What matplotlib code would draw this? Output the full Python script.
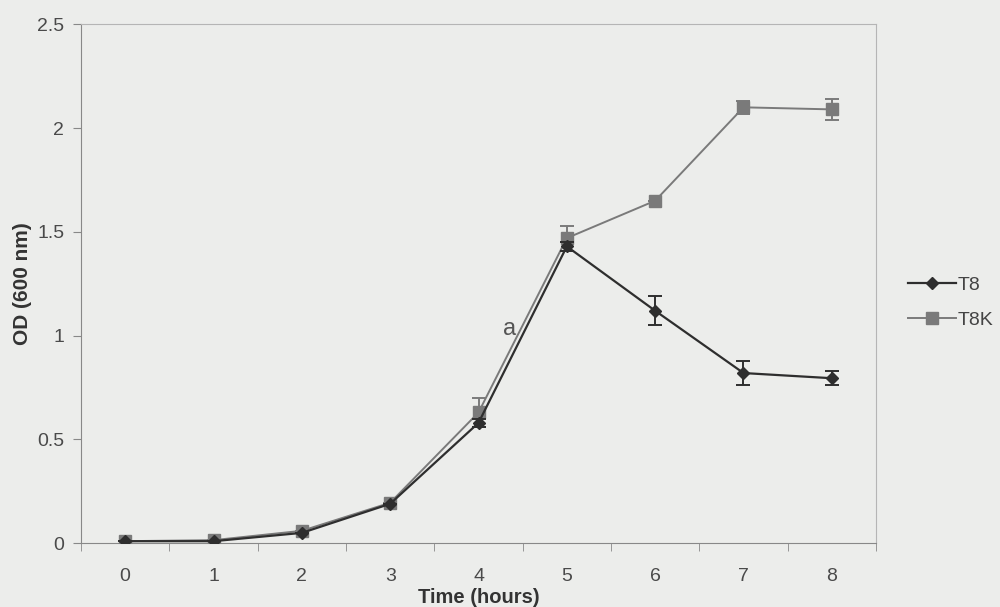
import matplotlib.pyplot as plt
from matplotlib.lines import Line2D
import numpy as np

plt.rcParams['font.family'] = ['Liberation Sans', 'DejaVu Sans']

# Growth curve data
hours = [0, 1, 2, 3, 4, 5, 6, 7, 8]
t8 = [0.01, 0.01, 0.05, 0.19, 0.58, 1.43, 1.12, 0.82, 0.795]
t8_err = [0.0, 0.0, 0.0, 0.0, 0.02, 0.02, 0.07, 0.06, 0.035]
t8k = [0.01, 0.015, 0.06, 0.195, 0.63, 1.47, 1.65, 2.10, 2.09]
t8k_err = [0.0, 0.0, 0.0, 0.0, 0.07, 0.06, 0.0, 0.03, 0.05]

bg = '#ecedeb'
c_t8 = '#2e2e2e'
c_t8k = '#7a7a7a'

fig = plt.figure(figsize=(10, 6.07), dpi=100, facecolor=bg)
ax = fig.add_axes([0.081, 0.105, 0.795, 0.855], facecolor=bg)

ax.errorbar(hours, t8k, yerr=t8k_err, color=c_t8k, marker='s', markersize=8,
            linewidth=1.4, capsize=5, elinewidth=1.4, capthick=1.4, zorder=3)
ax.errorbar(hours, t8, yerr=t8_err, color=c_t8, marker='D', markersize=6,
            linewidth=1.6, capsize=5, elinewidth=1.4, capthick=1.4, zorder=4)

ax.text(4.35, 1.03, 'a', fontsize=17, color='#555555', ha='center', va='center')

ax.set_xlim(-0.5, 8.5)
ax.set_ylim(0, 2.5)
ax.set_xticks(hours)
ax.set_xticks(np.arange(-0.5, 9, 1), minor=True)
ax.tick_params(axis='x', which='major', length=0, pad=18)
ax.tick_params(axis='x', which='minor', length=6, color='#888888')
ax.set_yticks([0, 0.5, 1, 1.5, 2, 2.5])
ax.set_yticklabels(['0', '0.5', '1', '1.5', '2', '2.5'])
ax.tick_params(axis='y', length=6, color='#888888', pad=6)
ax.tick_params(labelsize=14, labelcolor='#4a4a4a')

for side in ['left', 'bottom']:
    ax.spines[side].set_color('#888888')
for side in ['top', 'right']:
    ax.spines[side].set_color('#b5b5b5')

ax.set_xlabel('Time (hours)', fontsize=14.5, fontweight='bold', color='#333333', va='center')
ax.xaxis.set_label_coords(0.5, -0.105)
ax.set_ylabel('OD (600 nm)', fontsize=15, fontweight='bold', color='#333333', labelpad=4)

handles = [Line2D([], [], color=c_t8, marker='D', markersize=6, linewidth=1.6),
           Line2D([], [], color=c_t8k, marker='s', markersize=8, linewidth=1.4)]
leg = fig.legend(handles, ['T8', 'T8K'], loc='center left', bbox_to_anchor=(0.89, 0.502),
                 frameon=False, fontsize=14, handlelength=2.5, labelspacing=0.9,
                 handletextpad=0.1)
for t in leg.get_texts():
    t.set_color('#444444')

fig.savefig('out.png', dpi=100, facecolor=bg)
